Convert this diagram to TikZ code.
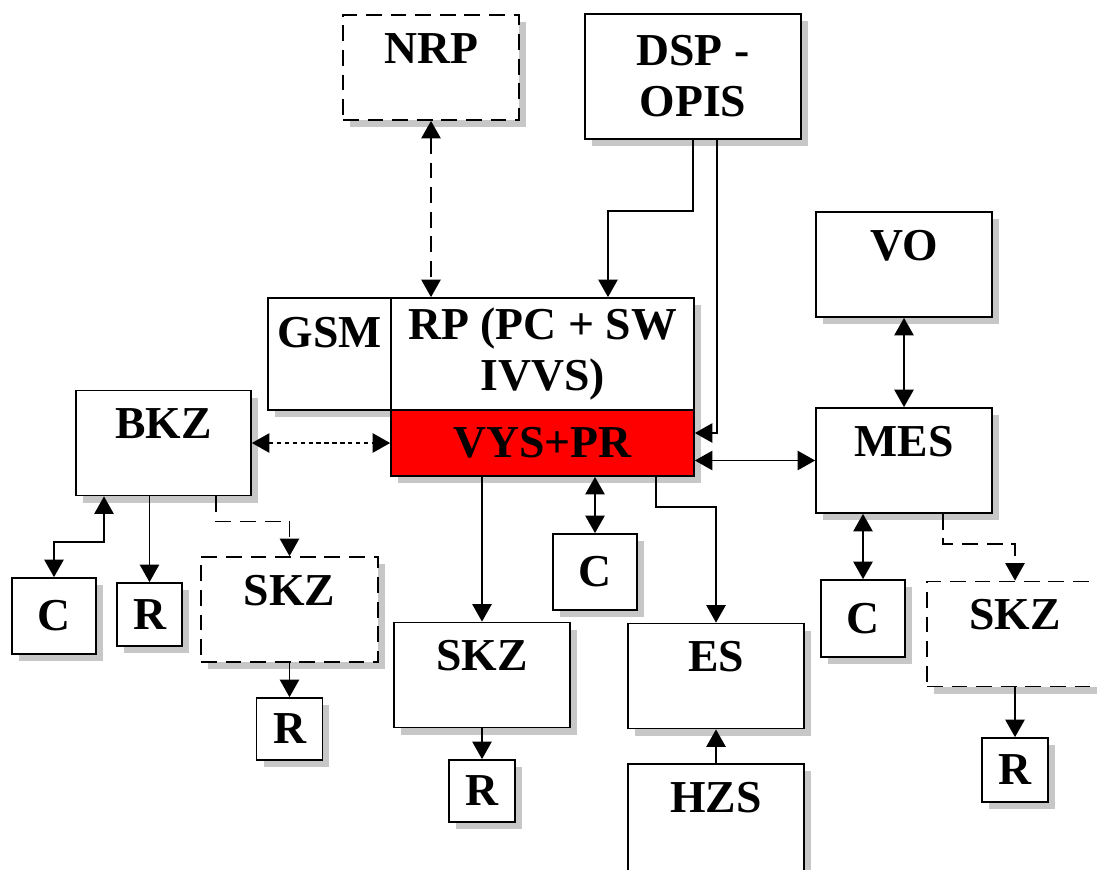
\documentclass[tikz,border=0pt]{standalone}
\usepackage{fontspec}
\setmainfont{Liberation Serif}
\usetikzlibrary{arrows.meta, calc, shadows}

\begin{document}
\begin{tikzpicture}[x=0.02cm, y=-0.02cm, >={Triangle[length=10pt,width=11pt]}, line width=1pt,
  box/.style={draw, fill=white, inner sep=0pt, font=\bfseries\fontsize{26}{29}\selectfont,
    drop shadow={shadow xshift=0.14cm, shadow yshift=-0.14cm, fill=black!22, opacity=1}},
  blk/.style={box, minimum width=3.52cm, text height=0.96cm, text depth=1.14cm},
  sm/.style={box, minimum width=1.32cm, minimum height=1.24cm},
  cbox/.style={box, minimum width=1.68cm, minimum height=1.52cm},
  dashline/.style={dash pattern=on 9pt off 5pt},
  dotline/.style={dash pattern=on 2.5pt off 2pt}]

\useasboundingbox (0,0) rectangle (1097,869);

% ---------- top row ----------
\node[blk, dashline] (nrp) at (431,67.5) {NRP};
\node[box, minimum width=4.32cm, minimum height=2.5cm, align=center] (dsp) at (693,76.5) {DSP -\\OPIS};

% ---------- central block ----------
\node[box, minimum width=2.46cm, text height=0.98cm, text depth=1.26cm] (gsm) at (329.5,354) {GSM};
\node[box, minimum width=6.06cm, minimum height=2.24cm, align=center] (rp) at (542.5,354) {RP (PC + SW\\IVVS)};
\node[box, fill=red, minimum width=6.06cm, minimum height=1.32cm] (vys) at (542.5,443) {VYS+PR};

% ---------- left branch ----------
\node[blk, minimum width=3.5cm] (bkz) at (163.5,443) {BKZ};
\node[cbox] (cl) at (54,616) {C};
\node[sm, minimum width=1.3cm, minimum height=1.26cm] (rl) at (149.5,614.5) {R};
\node[blk, dashline, minimum width=3.54cm] (skzl) at (289.5,609.5) {SKZ};
\node[sm] (rll) at (289.5,729) {R};

% ---------- lower middle ----------
\node[blk] (skzm) at (482,675) {SKZ};
\node[sm] (rm) at (482,791) {R};
\node[cbox] (cm) at (595,572) {C};
\node[blk] (es) at (716,676) {ES};
\node[blk, text depth=1.24cm] (hzs) at (716,819) {HZS};

% ---------- right branch ----------
\node[blk] (vo) at (904,264.5) {VO};
\node[blk] (mes) at (904,460.5) {MES};
\node[cbox, minimum height=1.54cm] (cr) at (863,618.5) {C};
\node[blk, dashline] (skzr) at (1015,634) {SKZ};
\node[sm, minimum height=1.28cm] (rr) at (1015,770) {R};

% ---------- connectors ----------
\draw[dashline,<->] (nrp.south) -- (nrp.south |- rp.north);
\draw[->] (dsp.south) -- ++(0,71) -| ($(rp.north)+(65.5,0)$);
\draw[->] ($(dsp.south)+(24,0)$) |- ($(vys.east)+(0,-10)$);
\draw[dotline,<->] (bkz.east) -- (vys.west);
\draw[<->] (vys.east |- mes.west) -- (mes.west);
\draw[<->] (vo) -- (mes);
\draw[<->] (mes.south -| cr.north) -- (cr.north);
\draw[dashline,->] ($(mes.south)+(39,0)$) -- ++(0,30) -| (skzr.north);
\draw[->] (skzr) -- (rr);
\draw[<->] (vys.south -| cm.north) -- (cm.north);
\draw[->] (vys.south -| skzm.north) -- (skzm.north);
\draw[->] (skzm) -- (rm);
\draw[->] ($(vys.south)+(113.5,0)$) -- ++(0,30) -| (es.north);
\draw[->] (hzs) -- (es);
\draw[<->] (cl.north) -- ++(0,-35) -| ($(bkz.south)+(-59.5,0)$);
\draw[->] (bkz.south -| rl.north) -- (rl.north);
\draw[dashline,->] ($(bkz.south)+(52.5,0)$) -- ++(0,25) -| (skzl.north);
\draw[->] (skzl) -- (rll);

\end{tikzpicture}
\end{document}
